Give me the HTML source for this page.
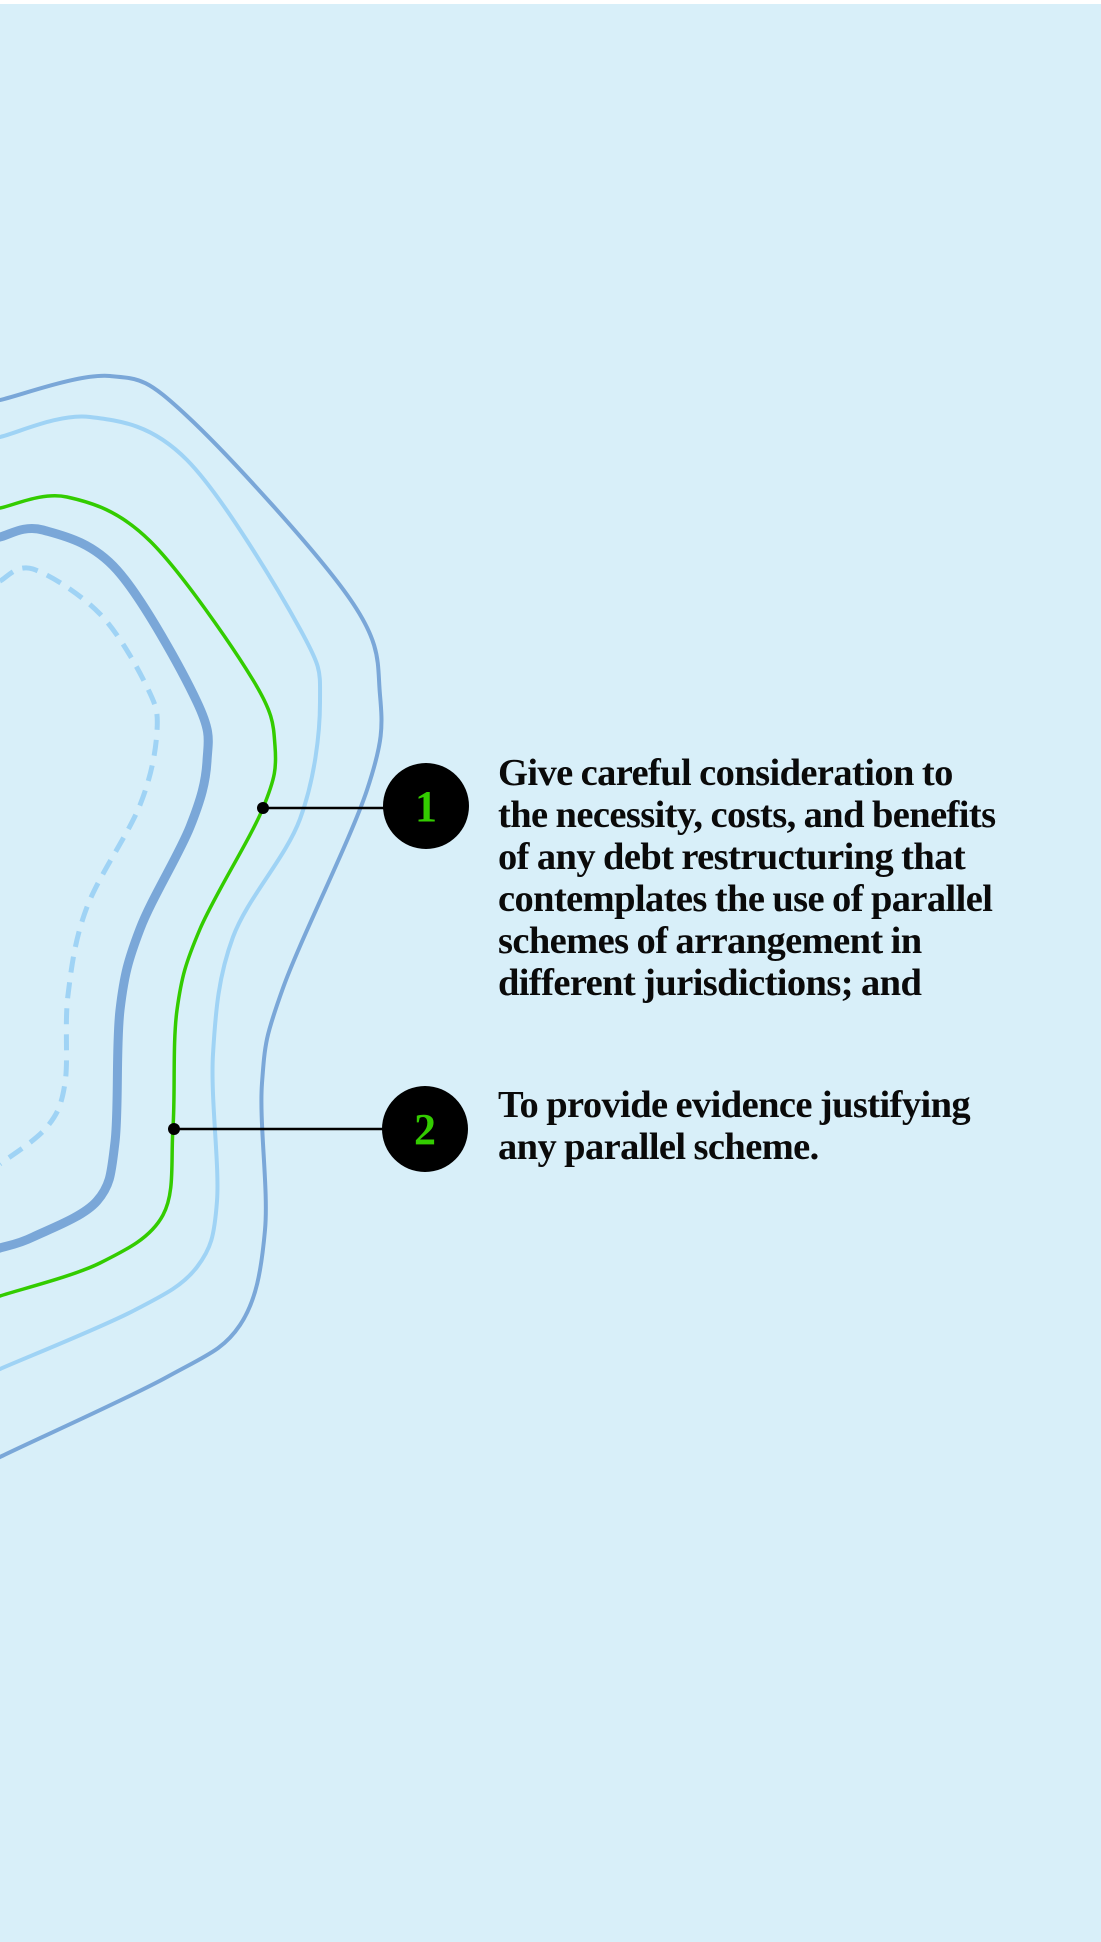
<!DOCTYPE html>
<html><head><meta charset="utf-8"><style>
html,body{margin:0;padding:0;}
body{width:1101px;height:1942px;background:#d8eff9;position:relative;overflow:hidden;font-family:"Liberation Serif",serif;}
.top{position:absolute;left:0;top:0;width:1101px;height:4px;background:#fff;}
svg{position:absolute;left:0;top:0;}
.t{position:absolute;left:498px;font-size:38.5px;font-weight:bold;line-height:42px;color:#0a0a0a;letter-spacing:-0.6px;word-spacing:-1px;white-space:nowrap;}
</style></head><body>
<div class="top"></div>
<svg width="1101" height="1942" viewBox="0 0 1101 1942">
<g fill="none" stroke-linecap="round" stroke-linejoin="round">
<path id="p1" stroke="#7aa7d8" stroke-width="4"/>
<path id="p2" stroke="#9fd3f5" stroke-width="4"/>
<path id="p3" stroke="#33cc00" stroke-width="3.5"/>
<path id="p4" stroke="#7aa7d8" stroke-width="9"/>
<path id="p5" stroke="#9fd3f5" stroke-width="5" stroke-dasharray="16 10" stroke-linecap="butt"/>
</g>
<line x1="263" y1="808" x2="390" y2="808" stroke="#000" stroke-width="2.5"/>
<line x1="174" y1="1129" x2="390" y2="1129" stroke="#000" stroke-width="2.5"/>
<circle cx="263" cy="808" r="6" fill="#000"/>
<circle cx="174" cy="1129" r="6" fill="#000"/>
<circle cx="426" cy="806" r="43" fill="#000"/>
<circle cx="425" cy="1129" r="43" fill="#000"/>
<text x="426" y="821" text-anchor="middle" font-family="Liberation Serif, serif" font-weight="bold" font-size="44" fill="#33cc00">1</text>
<text x="425" y="1144" text-anchor="middle" font-family="Liberation Serif, serif" font-weight="bold" font-size="44" fill="#33cc00">2</text>
</svg>
<div class="t" style="top:752px">Give careful consideration to<br>the necessity, costs, and benefits<br>of any debt restructuring that<br>contemplates the use of parallel<br>schemes of arrangement in<br>different jurisdictions; and</div>
<div class="t" style="top:1084px">To provide evidence justifying<br>any parallel scheme.</div>
<script>
function cr(pts){
  pts=[pts[0]].concat(pts,[pts[pts.length-1]]);
  var d="M"+pts[1][0]+","+pts[1][1];
  for(var i=1;i<pts.length-2;i++){
    var p0=pts[i-1],p1=pts[i],p2=pts[i+1],p3=pts[i+2];
    var c1=[p1[0]+(p2[0]-p0[0])/6,p1[1]+(p2[1]-p0[1])/6];
    var c2=[p2[0]-(p3[0]-p1[0])/6,p2[1]-(p3[1]-p1[1])/6];
    d+=" C"+c1+" "+c2+" "+p2;
  }
  return d;
}
var P={
p1:[[-10,402],[0,400],[110,376],[187,416],[350,599],[380,695],[367,790],[283,988],[262,1083],[265,1230],[240,1325],[167,1377],[0,1457],[-10,1465]],
p2:[[-10,439],[0,437],[90,417],[187,460],[300,629],[320,702],[300,819],[233,937],[213,1054],[217,1201],[197,1267],[133,1311],[0,1369],[-10,1374]],
p3:[[-10,510],[0,508],[67,497],[150,541],[253,680],[275,746],[263,808],[200,929],[177,1010],[173,1127],[163,1215],[100,1263],[0,1296],[-10,1300]],
p4:[[-10,540],[0,537],[43,530],[117,570],[197,702],[207,761],[190,827],[140,929],[120,1010],[115,1142],[97,1201],[33,1237],[0,1248],[-10,1252]],
p5:[[0,581],[33,569],[100,614],[147,687],[157,731],[140,805],[87,907],[68,995],[65,1083],[47,1127],[0,1164]]
};
for(var k in P){document.getElementById(k).setAttribute("d",cr(P[k]));}
</script>
</body></html>
